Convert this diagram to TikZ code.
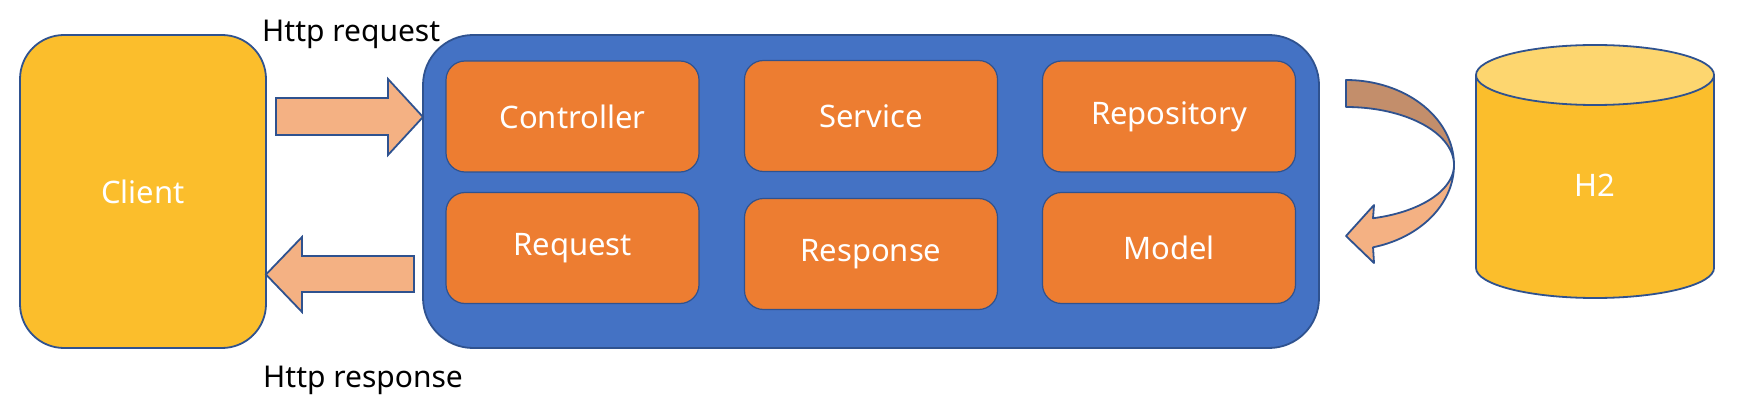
\documentclass[tikz,border=0pt]{standalone}
\usepackage{fontspec}
\setmainfont{Noto Sans}
\definecolor{goldfill}{HTML}{FBBE2C}
\definecolor{goldtop}{HTML}{FDD66F}
\definecolor{bluefill}{HTML}{4472C4}
\definecolor{orangefill}{HTML}{ED7D31}
\definecolor{edge}{HTML}{2F528F}
\definecolor{arrowlight}{HTML}{F4B183}
\definecolor{arrowdark}{HTML}{C38E6B}
\tikzset{
  lbl/.style={text=white, font=\fontsize{31}{36}\selectfont},
  clientbox/.style={draw=edge, line width=1.8pt, fill=goldfill, rounded corners=44pt,
    minimum width=246pt, minimum height=313pt, inner sep=0pt, lbl},
  serverbox/.style={draw=edge, line width=1.8pt, fill=bluefill, rounded corners=50pt,
    minimum width=896pt, minimum height=313pt, inner sep=0pt},
  partbox/.style={draw=edge, line width=1.2pt, fill=orangefill, rounded corners=19pt,
    minimum width=253pt, minimum height=111pt, inner sep=0pt, lbl},
  blockarrow/.style={draw=edge, line width=1.8pt, fill=arrowlight, line join=miter},
  caption/.style={anchor=base west, inner sep=0pt, text=black, font=\fontsize{30}{36}\selectfont},
  dbshape/.style={draw=edge, line width=1.8pt},
}
\begin{document}
\begin{tikzpicture}[x=1pt, y=-1pt]
\useasboundingbox (0,0) rectangle (1742,406);

% client
\node[clientbox] (client) at (143,191.5) {Client};

% server
\node[serverbox] (server) at (871,191.5) {};
\node[partbox] (controller) at (572.5,116.5) {Controller};
\node[partbox] (request)    at (572.5,248)   {Request};
\node[partbox] (service)    at (871,116)     {Service};
\node[partbox] (response)   at (871,254)     {Response};
\node[partbox] (repository) at (1169,116.5)  {Repository};
\node[partbox] (model)      at (1169,248)    {Model};

% captions
\node[caption] (reqlbl) at (262,42) {Http request};
\node[caption] (reslbl) at (263,387) {Http response};

% block arrows
\draw[blockarrow] (276,98) -- (388,98) -- (388,79) -- (423,117) -- (388,155) -- (388,135) -- (276,135) -- cycle;
\draw[blockarrow] (414,256) -- (302,256) -- (302,237) -- (266,274.5) -- (302,312) -- (302,292) -- (414,292) -- cycle;

% curved arrow (twisted ribbon)
\draw[blockarrow, fill=arrowdark, line join=round]
  plot[domain=90:0, samples=40] ({1346+108*cos(\x)},{165-85*sin(\x)})
  -- plot[domain=0:90, samples=40] ({1346+108*cos(\x)},{165-58*sin(\x)}) -- cycle;
\draw[blockarrow, line join=round]
  plot[domain=0:75.5, samples=40] ({1346+108*cos(\x)},{165+85*sin(\x)})
  -- (1374,263) -- (1346,236) -- (1374,205) -- (1373,218.2)
  -- plot[domain=75.5:0, samples=40] ({1346+108*cos(\x)},{165+55*sin(\x)}) -- cycle;

% database cylinder
\fill[goldfill] (1476,75) -- (1476,268) arc[start angle=180, end angle=360, x radius=119pt, y radius=30pt] -- (1714,75) -- cycle;
\draw[dbshape] (1476,75) -- (1476,268) arc[start angle=180, end angle=360, x radius=119pt, y radius=30pt] -- (1714,75);
\draw[dbshape, fill=goldtop] (1595,75) ellipse[x radius=119pt, y radius=30pt];
\node[lbl, inner sep=0pt] (h2) at (1595,185) {H2};
\end{tikzpicture}
\end{document}
